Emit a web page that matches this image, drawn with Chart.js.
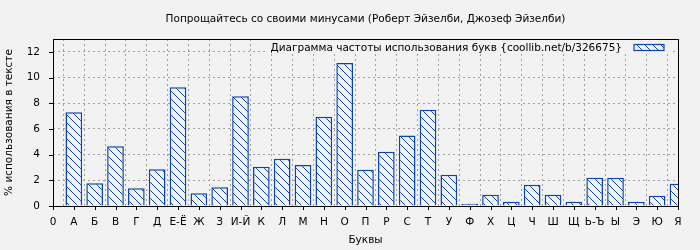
<!DOCTYPE html>
<html>
<head>
<meta charset="utf-8">
<script src="https://cdn.jsdelivr.net/npm/chart.js@4"></script>
<style>
  html, body { margin: 0; padding: 0; background: #f2f2f2; }
  #wrap { width: 700px; height: 250px; }
</style>
</head>
<body>
<div id="wrap"><canvas id="grafico" width="700" height="250"></canvas></div>
<script>
// Datos del gráfico
const titulo = 'Попрощайтесь со своими минусами (Роберт Эйзелби, Джозеф Эйзелби)';
const leyenda = 'Диаграмма частоты использования букв {coollib.net/b/326675}';
const letras = ['0', 'А', 'Б', 'В', 'Г', 'Д', 'Е-Ё', 'Ж', 'З', 'И-Й', 'К', 'Л', 'М', 'Н', 'О', 'П',
                'Р', 'С', 'Т', 'У', 'Ф', 'Х', 'Ц', 'Ч', 'Ш', 'Щ', 'Ь-Ъ', 'Ы', 'Э', 'Ю', 'Я'];
const porcentajes = [null, 7.30, 1.77, 4.65, 1.38, 2.86, 9.25, 0.99, 1.46, 8.55, 3.05, 3.67, 3.20, 6.94, 11.14, 2.82,
                     4.22, 5.49, 7.49, 2.43, 0.17, 0.87, 0.33, 1.65, 0.87, 0.33, 2.19, 2.19, 0.33, 0.79, 1.73];
const ticksY = [0, 2, 4, 6, 8, 10, 12];

const fondo = '#f2f2f2';
const azul = '#0a44b4';
const gris = '#a0a0a0';
const fuente = "'DejaVu Sans', sans-serif";
const tam = 10.5;

// Patrón rayado para las barras
function crearRayado() {
    const c = document.createElement('canvas');
    c.width = 8; c.height = 8;
    const g = c.getContext('2d');
    g.fillStyle = fondo;
    g.fillRect(0, 0, 8, 8);
    g.strokeStyle = azul;
    g.lineWidth = 1;
    [-8, 0, 8].forEach(k => {
        g.beginPath();
        g.moveTo(k, 0);
        g.lineTo(k + 8, 8);
        g.stroke();
    });
    return g.createPattern(c, 'repeat');
}
const rayado = crearRayado();

// Marco, marcas de los ejes, título y leyenda
const extras = {
    id: 'extras',
    beforeDraw(chart) {
        const ctx = chart.ctx;
        ctx.save();
        ctx.fillStyle = fondo;
        ctx.fillRect(0, 0, chart.width, chart.height);
        ctx.restore();
    },
    afterDatasetsDraw(chart) {
        const ctx = chart.ctx;
        const a = chart.chartArea;
        const x = chart.scales.x, y = chart.scales.y;
        ctx.save();
        // leyenda
        ctx.fillStyle = fondo;
        ctx.fillRect(a.left + 215, a.top + 1, a.right - a.left - 222, 13);
        ctx.font = tam + 'px ' + fuente;
        ctx.fillStyle = '#000';
        ctx.textAlign = 'right';
        ctx.textBaseline = 'middle';
        ctx.fillText(leyenda, a.right - 56, a.top + 9);
        ctx.fillStyle = rayado;
        ctx.fillRect(a.right - 44, a.top + 5.5, 30, 6);
        ctx.strokeStyle = azul;
        ctx.lineWidth = 1.2;
        ctx.strokeRect(a.right - 44, a.top + 5.5, 30, 6);
        // marco
        ctx.strokeStyle = '#000';
        ctx.lineWidth = 1;
        ctx.strokeRect(Math.round(a.left) + 0.5, Math.round(a.top) + 0.5,
                       Math.round(a.right - a.left), Math.round(a.bottom - a.top));
        // marcas
        ctx.beginPath();
        x.ticks.forEach((t, i) => {
            const px = Math.round(x.getPixelForTick(i)) + 0.5;
            ctx.moveTo(px, a.bottom);
            ctx.lineTo(px, a.bottom + 4);
        });
        y.ticks.forEach((t, i) => {
            const py = Math.round(y.getPixelForTick(i)) + 0.5;
            ctx.moveTo(a.left - 4, py);
            ctx.lineTo(a.left, py);
        });
        ctx.stroke();
        // título
        ctx.font = tam + 'px ' + fuente;
        ctx.textAlign = 'center';
        ctx.fillStyle = '#000';
        ctx.fillText(titulo, (a.left + a.right) / 2, 19);
        ctx.restore();
    }
};

const ctx = document.getElementById('grafico').getContext('2d');
const graficoLetras = new Chart(ctx, {
    type: 'bar',
    data: {
        labels: letras,
        datasets: [{
            label: leyenda,
            data: porcentajes,
            backgroundColor: rayado,
            borderColor: azul,
            borderWidth: 1.5,
            barPercentage: 0.8,
            categoryPercentage: 1,
            clip: 0
        }]
    },
    options: {
        responsive: false,
        animation: false,
        layout: { padding: { top: 39, right: 22, bottom: 0, left: 0 } },
        plugins: {
            legend: { display: false },
            title: { display: false },
            tooltip: { enabled: false }
        },
        scales: {
            x: {
                offset: false,
                grid: { color: gris, drawTicks: false },
                border: { display: false, dash: [2, 3] },
                ticks: { color: '#000', font: { family: fuente, size: tam }, padding: 10, maxRotation: 0, autoSkip: false },
                title: { display: true, text: 'Буквы', color: '#000', font: { family: fuente, size: tam }, padding: { top: 0, bottom: 3 } },
                afterFit(scale) { scale.height = 44; }
            },
            y: {
                min: 0,
                max: 13,
                grid: { color: gris, drawTicks: false },
                border: { display: false, dash: [2, 3] },
                ticks: { color: '#000', font: { family: fuente, size: tam }, padding: 13 },
                afterBuildTicks(scale) { scale.ticks = ticksY.map(v => ({ value: v })); },
                title: { display: true, text: '% использования в тексте', color: '#000', font: { family: fuente, size: tam }, padding: { top: 3, bottom: 0 } },
                afterFit(scale) { scale.width = 53; }
            }
        }
    },
    plugins: [extras]
});
</script>
</body>
</html>
